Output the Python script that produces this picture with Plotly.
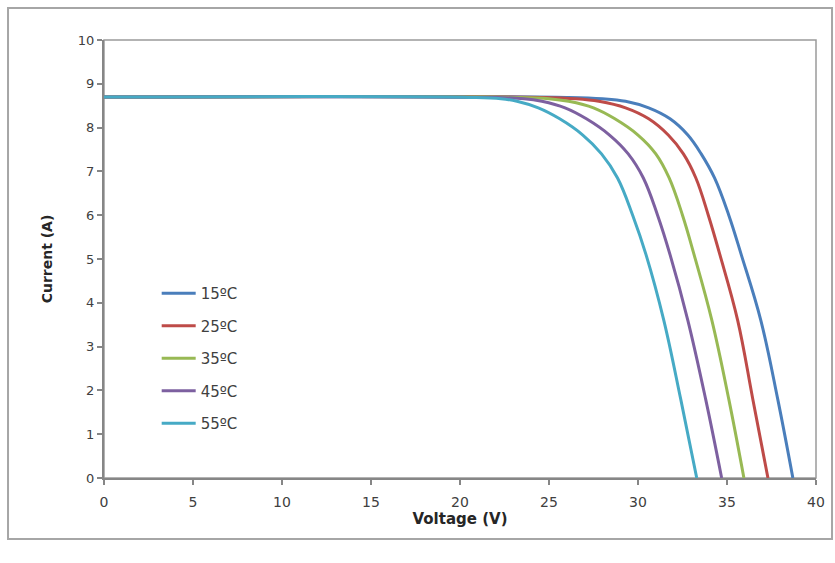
import plotly.graph_objects as go

# ---- data ----
series_names = ["15ºC", "25ºC", "35ºC", "45ºC", "55ºC"]
series_colors = ["#4A7EBB", "#BE4B48", "#98B954", "#7D60A0", "#46AAC5"]

# current levels (A) at which the voltage of each curve was read
current_levels = [8.70, 8.69, 8.66, 8.60, 8.45, 8.20, 7.83, 7.40, 6.85, 6.00, 5.10, 3.60, 1.80, 0.0]

# voltage (V) of each curve at those current levels
v_15 = [0, 26.0, 28.0, 29.3, 30.6, 31.8, 32.8, 33.55, 34.3, 35.1, 35.8, 36.9, 37.85, 38.7]
v_25 = [0, 24.5, 26.5, 27.8, 29.3, 30.6, 31.7, 32.55, 33.25, 33.95, 34.6, 35.6, 36.45, 37.3]
v_35 = [0, 23.0, 25.0, 26.1, 27.5, 28.7, 30.0, 31.0, 31.75, 32.5, 33.15, 34.15, 35.1, 35.95]
v_45 = [0, 21.5, 23.6, 24.6, 25.9, 27.1, 28.4, 29.45, 30.3, 31.1, 31.8, 32.8, 33.8, 34.7]
v_55 = [0, 20.5, 22.3, 23.2, 24.4, 25.6, 26.9, 27.95, 28.85, 29.7, 30.45, 31.45, 32.4, 33.3]

x_ticks = [0, 5, 10, 15, 20, 25, 30, 35, 40]
y_ticks = [0, 1, 2, 3, 4, 5, 6, 7, 8, 9, 10]

voltages = [v_15, v_25, v_35, v_45, v_55]

FONT = "'DejaVu Sans', sans-serif"
AXIS_GRAY = "#868686"
TEXT = "#404040"

fig = go.Figure()
for name, color, v in zip(series_names, series_colors, voltages):
    fig.add_trace(go.Scatter(
        x=v, y=current_levels, mode="lines", name=name, legendgroup=name,
        line=dict(color=color, width=3, shape="spline", smoothing=1.1),
    ))

fig.update_layout(
    width=835, height=563,
    margin=dict(l=104, r=19, t=40, b=85),
    paper_bgcolor="white", plot_bgcolor="white",
    font=dict(family=FONT, color=TEXT, size=13),
    showlegend=True,
    legend=dict(
        x=0.074, y=0.459, xanchor="left", yanchor="top",
        bgcolor="rgba(0,0,0,0)", tracegroupgap=10,
        font=dict(family=FONT, size=15, color=TEXT),
        itemwidth=34,
    ),
    xaxis=dict(
        range=[0, 40], tickvals=x_ticks, showgrid=False, zeroline=False,
        showline=True, linecolor=AXIS_GRAY, linewidth=2,
        ticks="outside", ticklen=5, tickcolor=AXIS_GRAY, tickwidth=1.5,
        tickfont=dict(size=14, color=TEXT), ticklabelstandoff=5,
        automargin=False,
        title=dict(text="<b>Voltage (V)</b>", font=dict(size=15, color="#262626"), standoff=3),
    ),
    yaxis=dict(
        range=[0, 10], tickvals=y_ticks, showgrid=False, zeroline=False,
        showline=True, linecolor=AXIS_GRAY, linewidth=2,
        ticks="outside", ticklen=5, tickcolor=AXIS_GRAY, tickwidth=1.5,
        tickfont=dict(size=13, color=TEXT),
        automargin=False,
        title=dict(text="<b>Current (A)</b>", font=dict(size=14, color="#262626"), standoff=22),
    ),
    shapes=[
        # plot-area border
        dict(type="rect", xref="paper", yref="paper", x0=0, x1=1, y0=0, y1=1,
             line=dict(color="#9A9A9A", width=1.5), layer="below"),
        # outer chart frame
        dict(type="rect", xref="paper", yref="paper", x0=-0.1348, x1=1.0225,
             y0=-0.1393, y1=1.073, line=dict(color="#A6A6A6", width=2), layer="below"),
    ],
)

fig.write_html("out.html", config={"displayModeBar": False},
               post_script="document.body.style.margin='0';")
